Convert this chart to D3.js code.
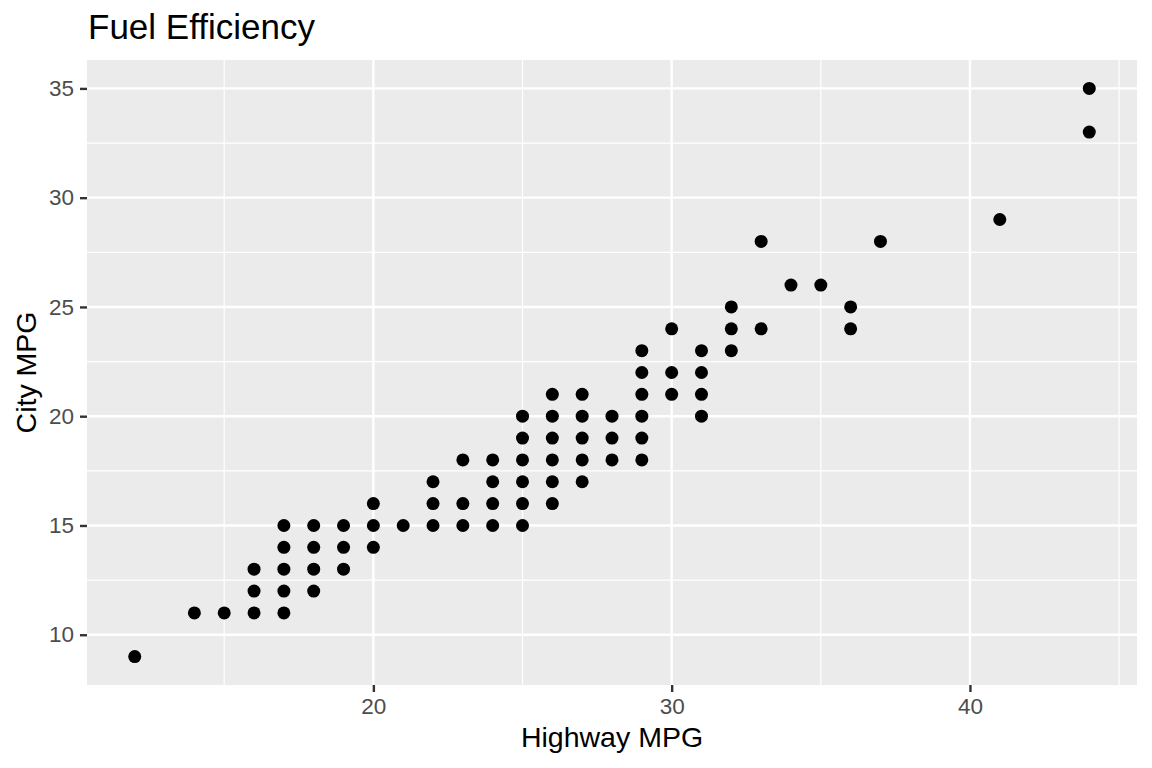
<!DOCTYPE html>
<html>
<head>
<meta charset="utf-8">
<script src="https://cdn.jsdelivr.net/npm/d3@7"></script>
<style>
  body { margin: 0; background: #fff; }
  svg { display: block; font-family: "Liberation Sans", Arial, sans-serif; }
</style>
</head>
<body>
<div id="chart"></div>
<script>
// Highway / city mpg pairs
const hwy = [12, 14, 15, 16, 16, 16, 17, 17, 17, 17, 17, 18, 18, 18, 18, 19, 19, 19,
  20, 20, 20, 21, 22, 22, 22, 23, 23, 23, 24, 24, 24, 24,
  25, 25, 25, 25, 25, 25, 26, 26, 26, 26, 26, 26, 27, 27, 27, 27, 27,
  28, 28, 28, 29, 29, 29, 29, 29, 29, 30, 30, 30, 31, 31, 31, 31,
  32, 32, 32, 33, 33, 34, 35, 36, 36, 37, 41, 44, 44];
const cty = [9, 11, 11, 11, 12, 13, 11, 12, 13, 14, 15, 12, 13, 14, 15, 13, 14, 15,
  14, 15, 16, 15, 15, 16, 17, 15, 16, 18, 15, 16, 17, 18,
  15, 16, 17, 18, 19, 20, 16, 17, 18, 19, 20, 21, 17, 18, 19, 20, 21,
  18, 19, 20, 18, 19, 20, 21, 22, 23, 21, 22, 24, 20, 21, 22, 23,
  23, 24, 25, 24, 28, 26, 26, 24, 25, 28, 29, 33, 35];

const xMajor = [20, 30, 40];
const xMinor = [15, 25, 35, 45];
const yMajor = [10, 15, 20, 25, 30, 35];
const yMinor = [12.5, 17.5, 22.5, 27.5, 32.5];

const width = 1152, height = 768;
const panel = { left: 87, right: 1137, top: 60, bottom: 685 };

const svg = d3.select('#chart').append('svg')
    .attr('width', width)
    .attr('height', height);

// ggplot-style 5% expansion around the data range
const x = d3.scaleLinear()
    .domain([10.4, 45.6])
    .range([panel.left, panel.right]);
const y = d3.scaleLinear()
    .domain([7.7, 36.3])
    .range([panel.bottom, panel.top]);

// Panel background
svg.append('rect')
    .attr('x', panel.left)
    .attr('y', panel.top)
    .attr('width', panel.right - panel.left)
    .attr('height', panel.bottom - panel.top)
    .attr('fill', '#EBEBEB');

// Grid lines
const grid = svg.append('g').attr('stroke', '#fff');
grid.selectAll('.vminor').data(xMinor.filter(d => x(d) < panel.right)).enter().append('line')
    .attr('x1', d => x(d)).attr('x2', d => x(d))
    .attr('y1', panel.top).attr('y2', panel.bottom)
    .attr('stroke-width', 1.2);
grid.selectAll('.hminor').data(yMinor).enter().append('line')
    .attr('y1', d => y(d)).attr('y2', d => y(d))
    .attr('x1', panel.left).attr('x2', panel.right)
    .attr('stroke-width', 1.2);
grid.selectAll('.vmajor').data(xMajor).enter().append('line')
    .attr('x1', d => x(d)).attr('x2', d => x(d))
    .attr('y1', panel.top).attr('y2', panel.bottom)
    .attr('stroke-width', 2.4);
grid.selectAll('.hmajor').data(yMajor).enter().append('line')
    .attr('y1', d => y(d)).attr('y2', d => y(d))
    .attr('x1', panel.left).attr('x2', panel.right)
    .attr('stroke-width', 2.4);

// Points
svg.append('g').selectAll('circle')
    .data(hwy.map((h, i) => ({ hwy: h, cty: cty[i] })))
    .enter()
    .append('circle')
    .attr('cx', d => x(d.hwy))
    .attr('cy', d => y(d.cty))
    .attr('r', 6.5)
    .attr('fill', '#000');

// Axes
const xAxis = svg.append('g')
    .attr('transform', `translate(0,${panel.bottom})`)
    .call(d3.axisBottom(x).tickValues(xMajor).tickSize(7).tickPadding(6));
const yAxis = svg.append('g')
    .attr('transform', `translate(${panel.left},0)`)
    .call(d3.axisLeft(y).tickValues(yMajor).tickSize(7).tickPadding(6));

[xAxis, yAxis].forEach(ax => {
    ax.select('.domain').remove();
    ax.selectAll('.tick line').attr('stroke', '#333').attr('stroke-width', 2.4);
    ax.selectAll('.tick text')
        .attr('fill', '#4D4D4D')
        .attr('font-size', '22.5px')
        .attr('font-family', '"Liberation Sans", Arial, sans-serif');
});

// Titles
svg.append('text')
    .attr('x', panel.left + 1)
    .attr('y', 39)
    .attr('font-size', '35px')
    .attr('fill', '#000')
    .text('Fuel Efficiency');

svg.append('text')
    .attr('x', (panel.left + panel.right) / 2)
    .attr('y', 747)
    .attr('text-anchor', 'middle')
    .attr('font-size', '28.5px')
    .attr('fill', '#000')
    .text('Highway MPG');

svg.append('text')
    .attr('transform', `translate(36,${(panel.top + panel.bottom) / 2}) rotate(-90)`)
    .attr('text-anchor', 'middle')
    .attr('font-size', '28.5px')
    .attr('fill', '#000')
    .text('City MPG');
</script>
</body>
</html>
